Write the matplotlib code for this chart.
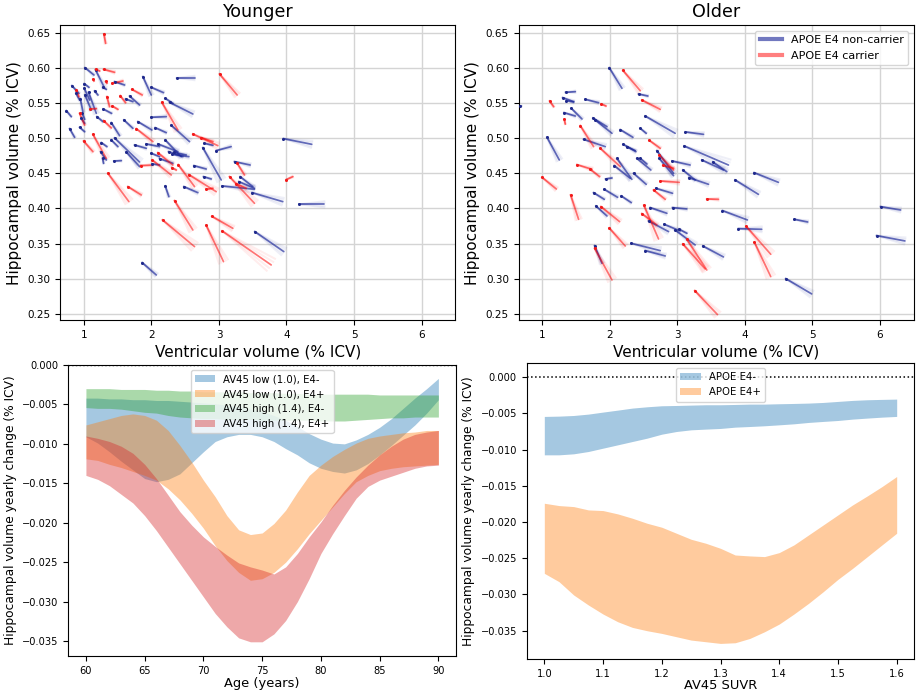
import numpy as np
import matplotlib
matplotlib.use("Agg")
import matplotlib.pyplot as plt
from matplotlib.lines import Line2D

# ---------------- Younger cohort: trajectories (start -> end) ----------------
young_nc_x0 = [1.015, 1.173, 0.822, 0.882, 0.946, 1.005, 1.005, 1.015, 1.069, 1.158, 0.739, 0.788, 0.936,
               0.975, 0.961, 1.192, 1.281, 1.286, 1.454, 1.617, 1.676, 1.592, 1.405, 1.873, 1.997, 2.376,
               2.204, 2.268, 1.997, 2.056, 2.293, 1.799, 1.750, 1.923, 2.095, 1.997, 2.011, 2.204, 2.253,
               2.307, 2.120, 1.257, 1.247, 1.276, 1.444, 1.405, 1.454, 1.627, 2.480, 2.204, 2.628, 2.761,
               2.781, 2.771, 2.959, 3.047, 3.230, 3.314, 3.294, 3.491, 3.955, 4.192, 3.531, 1.863, 2.332]
young_nc_y0 = [0.6006, 0.5973, 0.5750, 0.5640, 0.5564, 0.5778, 0.5712, 0.5617, 0.5655, 0.5674, 0.5393, 0.5137,
               0.5156, 0.5355, 0.5284, 0.5308, 0.5726, 0.5417, 0.5807, 0.5560, 0.5602, 0.5261, 0.5223, 0.5878,
               0.5726, 0.5859, 0.5569, 0.5512, 0.5299, 0.5151, 0.5185, 0.5237, 0.4904, 0.4919, 0.4919, 0.4786,
               0.4634, 0.4976, 0.4809, 0.4771, 0.4710, 0.4938, 0.4809, 0.4714, 0.4676, 0.4976, 0.5004, 0.4805,
               0.4311, 0.4320, 0.4610, 0.4866, 0.4928, 0.4453, 0.4824, 0.4320, 0.4667, 0.4453, 0.4382, 0.4225,
               0.4995, 0.4059, 0.3670, 0.3228, 0.4800]
young_nc_x1 = [1.148, 1.306, 0.926, 0.936, 0.985, 1.074, 1.084, 1.109, 1.183, 1.207, 0.813, 0.862, 1.010,
               1.010, 1.010, 1.281, 1.331, 1.409, 1.602, 1.725, 1.824, 1.725, 1.528, 1.997, 2.179, 2.638,
               2.317, 2.613, 2.219, 2.219, 2.564, 2.006, 1.923, 2.120, 2.391, 2.120, 2.120, 2.441, 2.465,
               2.554, 2.317, 1.340, 1.331, 1.291, 1.553, 1.503, 1.824, 1.824, 2.687, 2.258, 2.811, 3.033,
               2.909, 2.885, 3.180, 3.526, 3.462, 3.501, 3.526, 3.945, 4.374, 4.562, 3.960, 2.071, 2.515]
young_nc_y1 = [0.5902, 0.5716, 0.5640, 0.5545, 0.5379, 0.5726, 0.5545, 0.5403, 0.5355, 0.5617, 0.5308, 0.5014,
               0.5094, 0.5270, 0.5213, 0.5237, 0.5697, 0.5355, 0.5759, 0.5522, 0.5474, 0.5142, 0.5037, 0.5617,
               0.5650, 0.5859, 0.5498, 0.5346, 0.5308, 0.5080, 0.4952, 0.5118, 0.4857, 0.4881, 0.4809, 0.4738,
               0.4619, 0.4738, 0.4738, 0.4738, 0.4643, 0.4881, 0.4691, 0.4643, 0.4681, 0.4881, 0.4662, 0.4596,
               0.4225, 0.4168, 0.4562, 0.4406, 0.4900, 0.4420, 0.4881, 0.4273, 0.4619, 0.4311, 0.4287, 0.4097,
               0.4914, 0.4059, 0.3385, 0.3052, 0.4762]

young_c_x0 = [1.296, 1.173, 1.291, 1.133, 1.321, 1.419, 0.887, 0.936, 1.340, 1.538, 1.710, 1.419, 1.094,
              1.291, 1.133, 0.995, 1.775, 2.154, 1.355, 1.651, 1.839, 2.095, 2.011, 2.302, 2.396, 2.554,
              2.613, 2.737, 2.811, 3.008, 3.156, 3.264, 3.255, 3.995, 2.342, 2.164, 2.894, 2.811, 3.047]
young_c_y0 = [0.6486, 0.5982, 0.5982, 0.5840, 0.5811, 0.5783, 0.5688, 0.5355, 0.5593, 0.5607, 0.5697, 0.5460,
              0.5417, 0.5251, 0.5056, 0.4961, 0.5137, 0.5512, 0.4501, 0.4311, 0.4610, 0.4795, 0.4691, 0.4581,
              0.4624, 0.4482, 0.5061, 0.5009, 0.4273, 0.5916, 0.4453, 0.4653, 0.4353, 0.4410, 0.4111, 0.3836,
              0.3888, 0.3760, 0.3679]
young_c_x1 = [1.321, 1.232, 1.454, 1.148, 1.340, 1.577, 0.926, 1.010, 1.380, 1.617, 1.863, 1.503, 1.183,
              1.405, 1.331, 1.133, 2.021, 2.391, 1.666, 1.849, 2.021, 2.317, 2.293, 2.367, 2.638, 2.959,
              2.983, 2.909, 2.909, 3.269, 3.526, 3.378, 3.403, 4.093, 2.613, 2.638, 3.205, 3.067, 3.773]
young_c_y1 = [0.6353, 0.5959, 0.5940, 0.5816, 0.5783, 0.5816, 0.5593, 0.5189, 0.5450, 0.5507, 0.5617, 0.5412,
              0.5422, 0.5147, 0.4714, 0.4809, 0.4952, 0.5118, 0.4097, 0.4192, 0.4619, 0.4619, 0.4477, 0.4548,
              0.4311, 0.4239, 0.4895, 0.4952, 0.4287, 0.5617, 0.4073, 0.4477, 0.4287, 0.4453, 0.3693, 0.3456,
              0.3717, 0.3242, 0.3195]

# ---------------- Older cohort ----------------
old_nc_x0 = [0.675, 1.991, 1.345, 1.301, 1.355, 1.321, 1.429, 1.636, 1.750, 1.784, 1.069, 1.611, 2.425,
             2.524, 2.154, 2.450, 2.198, 2.252, 2.400, 2.450, 2.105, 2.065, 2.351, 1.937, 2.696, 2.731,
             2.923, 3.101, 3.120, 3.081, 3.170, 3.362, 3.525, 3.855, 4.136, 1.759, 1.917, 2.169, 2.681,
             1.794, 2.598, 2.928, 2.573, 2.805, 2.967, 3.027, 3.668, 3.904, 4.733, 6.010, 5.951, 3.377,
             2.317, 2.524, 1.774, 4.605]
old_nc_y0 = [0.5460, 0.6006, 0.5655, 0.5579, 0.5536, 0.5365, 0.5427, 0.5555, 0.5289, 0.5261, 0.5014, 0.4985,
             0.5631, 0.5317, 0.5123, 0.5142, 0.4914, 0.4881, 0.4714, 0.4714, 0.4714, 0.4610, 0.4501, 0.4420,
             0.4824, 0.4714, 0.4676, 0.4890, 0.5090, 0.4548, 0.4439, 0.4691, 0.4662, 0.4406, 0.4510, 0.4225,
             0.4273, 0.4178, 0.4287, 0.4035, 0.4012, 0.4012, 0.3822, 0.3774, 0.3693, 0.3703, 0.3969, 0.3712,
             0.3845, 0.4026, 0.3613, 0.3465, 0.3503, 0.3399, 0.3470, 0.3000]
old_nc_x1 = [0.689, 2.179, 1.488, 1.464, 1.464, 1.488, 1.587, 1.833, 1.957, 2.031, 1.251, 1.932, 2.563,
             2.967, 2.341, 2.538, 2.386, 2.376, 2.607, 2.548, 2.326, 2.302, 2.538, 2.031, 2.943, 2.943,
             3.189, 3.756, 3.387, 3.263, 3.461, 3.682, 3.732, 4.200, 4.496, 1.917, 2.114, 2.317, 2.928,
             1.957, 2.844, 3.140, 2.869, 3.041, 3.263, 3.140, 4.037, 4.249, 4.930, 6.306, 6.370, 3.682,
             2.746, 2.820, 1.883, 4.989]
old_nc_y1 = [0.5460, 0.5712, 0.5664, 0.5522, 0.5517, 0.5317, 0.5275, 0.5507, 0.5166, 0.5071, 0.4691, 0.4881,
             0.5602, 0.5071, 0.5014, 0.5071, 0.4809, 0.4824, 0.4548, 0.4634, 0.4415, 0.4429, 0.4344, 0.4434,
             0.4501, 0.4467, 0.4619, 0.4619, 0.5056, 0.4406, 0.4344, 0.4548, 0.4524, 0.4201, 0.4372, 0.4130,
             0.4159, 0.4083, 0.4216, 0.3893, 0.3931, 0.3993, 0.3670, 0.3679, 0.3480, 0.3646, 0.3836, 0.3703,
             0.3807, 0.3978, 0.3537, 0.3309, 0.3399, 0.3323, 0.3219, 0.2782]

old_c_x0 = [2.193, 2.474, 1.108, 1.873, 1.325, 1.562, 1.858, 2.583, 2.731, 2.785, 1.513, 1.710, 0.995,
            1.419, 1.868, 2.504, 2.474, 1.991, 2.746, 2.647, 3.436, 4.018, 4.141, 3.140, 3.081, 1.774, 3.258]
old_c_y0 = [0.5968, 0.5545, 0.5531, 0.5488, 0.5270, 0.5180, 0.4857, 0.4971, 0.4762, 0.4615, 0.4624, 0.4558,
            0.4444, 0.4192, 0.4026, 0.4045, 0.3926, 0.3722, 0.4391, 0.4263, 0.4135, 0.3746, 0.3518, 0.3560,
            0.3494, 0.3432, 0.2829]
old_c_x1 = [2.450, 2.746, 1.168, 1.942, 1.340, 1.759, 2.154, 2.746, 2.943, 2.943, 1.735, 1.848, 1.207,
            1.537, 2.144, 2.721, 2.696, 2.228, 3.027, 2.820, 3.608, 4.383, 4.383, 3.436, 3.411, 2.031, 3.594]
old_c_y1 = [0.5678, 0.5412, 0.5450, 0.5460, 0.5203, 0.4881, 0.4596, 0.4857, 0.4548, 0.4572, 0.4558, 0.4453,
            0.4277, 0.3845, 0.3812, 0.3565, 0.3765, 0.3465, 0.4372, 0.4130, 0.4130, 0.3347, 0.3028, 0.3123,
            0.3138, 0.2981, 0.2487]

# ---------------- Yearly change by age ----------------
ages = list(range(60, 91))
low_neg_hi = [-0.0042, -0.0042, -0.0043, -0.0043, -0.0044, -0.0044, -0.0045, -0.0045, -0.0046, -0.0047, -0.0048,
              -0.0049, -0.0051, -0.0053, -0.0056, -0.0059, -0.0064, -0.0070, -0.0078, -0.0087, -0.0094, -0.0099,
              -0.0100, -0.0095, -0.0088, -0.0079, -0.0068, -0.0055, -0.0042, -0.0030, -0.0017]
low_neg_lo = [-0.0091, -0.0099, -0.0110, -0.0122, -0.0133, -0.0144, -0.0148, -0.0145, -0.0138, -0.0124, -0.0110,
              -0.0097, -0.0091, -0.0088, -0.0088, -0.0091, -0.0097, -0.0106, -0.0114, -0.0124, -0.0131, -0.0135,
              -0.0137, -0.0133, -0.0125, -0.0114, -0.0102, -0.0089, -0.0076, -0.0061, -0.0044]
low_pos_hi = [-0.0076, -0.0072, -0.0068, -0.0064, -0.0062, -0.0064, -0.0070, -0.0083, -0.0102, -0.0123, -0.0146,
              -0.0167, -0.0191, -0.0209, -0.0215, -0.0213, -0.0201, -0.0184, -0.0161, -0.0140, -0.0127, -0.0116,
              -0.0107, -0.0099, -0.0093, -0.0090, -0.0088, -0.0086, -0.0085, -0.0083, -0.0083]
low_pos_lo = [-0.0119, -0.0121, -0.0126, -0.0130, -0.0135, -0.0140, -0.0146, -0.0157, -0.0171, -0.0188, -0.0207,
              -0.0229, -0.0248, -0.0263, -0.0273, -0.0271, -0.0263, -0.0250, -0.0233, -0.0214, -0.0197, -0.0180,
              -0.0163, -0.0148, -0.0140, -0.0134, -0.0131, -0.0129, -0.0128, -0.0127, -0.0126]
high_neg_hi = [-0.0030, -0.0030, -0.0030, -0.0031, -0.0031, -0.0031, -0.0032, -0.0032, -0.0033, -0.0033, -0.0034,
               -0.0034, -0.0034, -0.0034, -0.0035, -0.0035, -0.0035, -0.0036, -0.0036, -0.0037, -0.0037, -0.0037,
               -0.0037, -0.0037, -0.0037, -0.0038, -0.0038, -0.0038, -0.0038, -0.0038, -0.0038]
high_neg_lo = [-0.0054, -0.0055, -0.0055, -0.0056, -0.0058, -0.0060, -0.0061, -0.0064, -0.0066, -0.0067, -0.0068,
               -0.0068, -0.0069, -0.0069, -0.0069, -0.0070, -0.0070, -0.0070, -0.0070, -0.0070, -0.0071, -0.0071,
               -0.0071, -0.0070, -0.0069, -0.0068, -0.0067, -0.0067, -0.0066, -0.0066, -0.0066]
high_pos_hi = [-0.0090, -0.0093, -0.0097, -0.0103, -0.0112, -0.0126, -0.0144, -0.0165, -0.0186, -0.0203, -0.0218,
               -0.0230, -0.0241, -0.0251, -0.0256, -0.0260, -0.0265, -0.0256, -0.0239, -0.0218, -0.0199, -0.0178,
               -0.0159, -0.0142, -0.0127, -0.0114, -0.0103, -0.0094, -0.0088, -0.0085, -0.0083]
high_pos_lo = [-0.0140, -0.0145, -0.0153, -0.0164, -0.0175, -0.0191, -0.0210, -0.0231, -0.0252, -0.0273, -0.0294,
               -0.0315, -0.0332, -0.0346, -0.0351, -0.0351, -0.0341, -0.0324, -0.0300, -0.0271, -0.0239, -0.0214,
               -0.0191, -0.0169, -0.0154, -0.0146, -0.0141, -0.0136, -0.0131, -0.0128, -0.0127]
age_labels = ["AV45 low (1.0), E4-", "AV45 low (1.0), E4+", "AV45 high (1.4), E4-", "AV45 high (1.4), E4+"]

# ---------------- Yearly change by AV45 SUVR ----------------
suvr = [1.000, 1.025, 1.050, 1.075, 1.100, 1.125, 1.150, 1.175, 1.200, 1.225, 1.250, 1.275, 1.300,
        1.325, 1.350, 1.375, 1.400, 1.425, 1.450, 1.475, 1.500, 1.525, 1.550, 1.575, 1.600]
e4neg_hi = [-0.00543, -0.00539, -0.00530, -0.00511, -0.00483, -0.00456, -0.00428, -0.00410, -0.00396, -0.00392,
            -0.00387, -0.00382, -0.00382, -0.00378, -0.00373, -0.00373, -0.00368, -0.00364, -0.00359, -0.00350,
            -0.00336, -0.00322, -0.00313, -0.00308, -0.00304]
e4neg_lo = [-0.01073, -0.01073, -0.01059, -0.01027, -0.00981, -0.00935, -0.00889, -0.00843, -0.00788, -0.00751,
            -0.00728, -0.00718, -0.00709, -0.00691, -0.00682, -0.00672, -0.00659, -0.00645, -0.00626, -0.00612,
            -0.00599, -0.00580, -0.00566, -0.00553, -0.00543]
e4pos_hi = [-0.01741, -0.01773, -0.01787, -0.01833, -0.01842, -0.01888, -0.01948, -0.02017, -0.02072, -0.02155,
            -0.02238, -0.02293, -0.02363, -0.02455, -0.02468, -0.02477, -0.02422, -0.02316, -0.02178, -0.02040,
            -0.01902, -0.01764, -0.01640, -0.01511, -0.01372]
e4pos_lo = [-0.02708, -0.02823, -0.03007, -0.03145, -0.03270, -0.03376, -0.03454, -0.03500, -0.03537, -0.03583,
            -0.03629, -0.03652, -0.03675, -0.03666, -0.03606, -0.03514, -0.03408, -0.03270, -0.03122, -0.02961,
            -0.02791, -0.02639, -0.02478, -0.02316, -0.02155]
suvr_labels = ["APOE E4-", "APOE E4+"]

NC_LINE = (0.10, 0.15, 0.60)
NC_DOT = (0.12, 0.16, 0.55)
C_LINE = (1.0, 0.0, 0.0)
C_DOT = (0.95, 0.1, 0.1)
NC_ALPHA = 0.68
C_ALPHA = 0.55

W, H = 916, 694
fig = plt.figure(figsize=(W / 100, H / 100), dpi=100)


def box(l, t, r, b):
    return [l / W, 1 - b / H, (r - l) / W, (b - t) / H]


ax_y = fig.add_axes(box(60.3, 25.3, 455.3, 320.3))
ax_o = fig.add_axes(box(518.7, 25.3, 913.7, 320.3))
ax_a = fig.add_axes(box(68.3, 365, 456, 656))
ax_s = fig.add_axes(box(526.7, 363.3, 914.3, 659))


def trajectories(ax, x0, y0, x1, y1, line_color, alpha, dot_color):
    x0, y0, x1, y1 = (np.asarray(v, float) for v in (x0, y0, x1, y1))
    to_px = ax.transData.transform
    from_px = ax.transData.inverted().transform
    for a, b, c, d in zip(x0, y0, x1, y1):
        ax.plot([a, c], [b, d], color=line_color, alpha=alpha, lw=1.25,
                solid_capstyle="round", zorder=2)
        p0 = to_px((a, b))
        v = to_px((c, d)) - p0
        # soft spread of the end of the segment
        for ang in (-7.0, -3.5, 3.5, 7.0):
            t = np.deg2rad(ang)
            rot = np.array([[np.cos(t), -np.sin(t)], [np.sin(t), np.cos(t)]])
            q = from_px(p0 + rot @ v)
            ax.plot([a, q[0]], [b, q[1]], color=line_color, alpha=0.07, lw=1.5, zorder=1.9)
    ax.plot(x0, y0, "o", ms=2.2, color=dot_color, zorder=3, mew=0)


for ax, title in ((ax_y, "Younger"), (ax_o, "Older")):
    ax.set_xlim(0.65, 6.5)
    ax.set_ylim(0.2406, 0.661)
    ax.set_xticks([1, 2, 3, 4, 5, 6])
    ax.set_yticks(np.arange(0.25, 0.651, 0.05))
    ax.set_yticklabels([f"{v:.2f}" for v in np.arange(0.25, 0.651, 0.05)])
    ax.grid(True, color="#d4d4d4", lw=1.0)
    ax.set_axisbelow(True)
    ax.tick_params(labelsize=7.5)
    ax.set_title(title, fontsize=12.6)
    ax.set_ylabel("Hippocampal volume (% ICV)", fontsize=11)
    ax.set_xlabel("Ventricular volume (% ICV)", fontsize=11, labelpad=3)

trajectories(ax_y, young_nc_x0, young_nc_y0, young_nc_x1, young_nc_y1, NC_LINE, NC_ALPHA, NC_DOT)
trajectories(ax_y, young_c_x0, young_c_y0, young_c_x1, young_c_y1, C_LINE, C_ALPHA, C_DOT)
trajectories(ax_o, old_nc_x0, old_nc_y0, old_nc_x1, old_nc_y1, NC_LINE, NC_ALPHA, NC_DOT)
trajectories(ax_o, old_c_x0, old_c_y0, old_c_x1, old_c_y1, C_LINE, C_ALPHA, C_DOT)

handles = [Line2D([], [], color=NC_LINE, alpha=0.62, lw=3),
           Line2D([], [], color=C_LINE, alpha=0.5, lw=3)]
ax_o.legend(handles, ["APOE E4 non-carrier", "APOE E4 carrier"], loc="upper right", fontsize=8)

# yearly change vs age
bands = [(low_neg_hi, low_neg_lo, "C0"), (low_pos_hi, low_pos_lo, "C1"),
         (high_neg_hi, high_neg_lo, "C2"), (high_pos_hi, high_pos_lo, "C3")]
for (hi, lo, col), lab in zip(bands, age_labels):
    ax_a.fill_between(ages, lo, hi, color=col, alpha=0.4, lw=0, label=lab)
ax_a.axhline(0, color="k", ls=":", lw=1.0)
ax_a.set_xlim(58.5, 91.5)
ax_a.set_ylim(-0.0369, 0.0)
ax_a.set_xticks([60, 65, 70, 75, 80, 85, 90])
ax_a.set_yticks(np.arange(-0.035, 0.0001, 0.005))
ax_a.tick_params(labelsize=7.1)
ax_a.set_xlabel("Age (years)", fontsize=9.4, labelpad=1)
ax_a.set_ylabel("Hippocampal volume yearly change (% ICV)", fontsize=8.8)
ax_a.legend(loc="upper center", fontsize=7.3)

# yearly change vs AV45 SUVR
for hi, lo, col, lab in ((e4neg_hi, e4neg_lo, "C0", suvr_labels[0]), (e4pos_hi, e4pos_lo, "C1", suvr_labels[1])):
    ax_s.fill_between(suvr, lo, hi, color=col, alpha=0.4, lw=0, label=lab)
ax_s.axhline(0, color="k", ls=":", lw=1.1)
ax_s.set_xlim(0.97, 1.63)
ax_s.set_ylim(-0.0389, 0.0019)
ax_s.set_xticks([1.0, 1.1, 1.2, 1.3, 1.4, 1.5, 1.6])
ax_s.set_yticks(np.arange(-0.035, 0.0001, 0.005))
ax_s.tick_params(labelsize=7.1)
ax_s.set_xlabel("AV45 SUVR", fontsize=9.4, labelpad=0)
ax_s.set_ylabel("Hippocampal volume yearly change (% ICV)", fontsize=8.8)
ax_s.legend(loc="upper center", fontsize=7.3)

fig.savefig("out.png", dpi=100)
